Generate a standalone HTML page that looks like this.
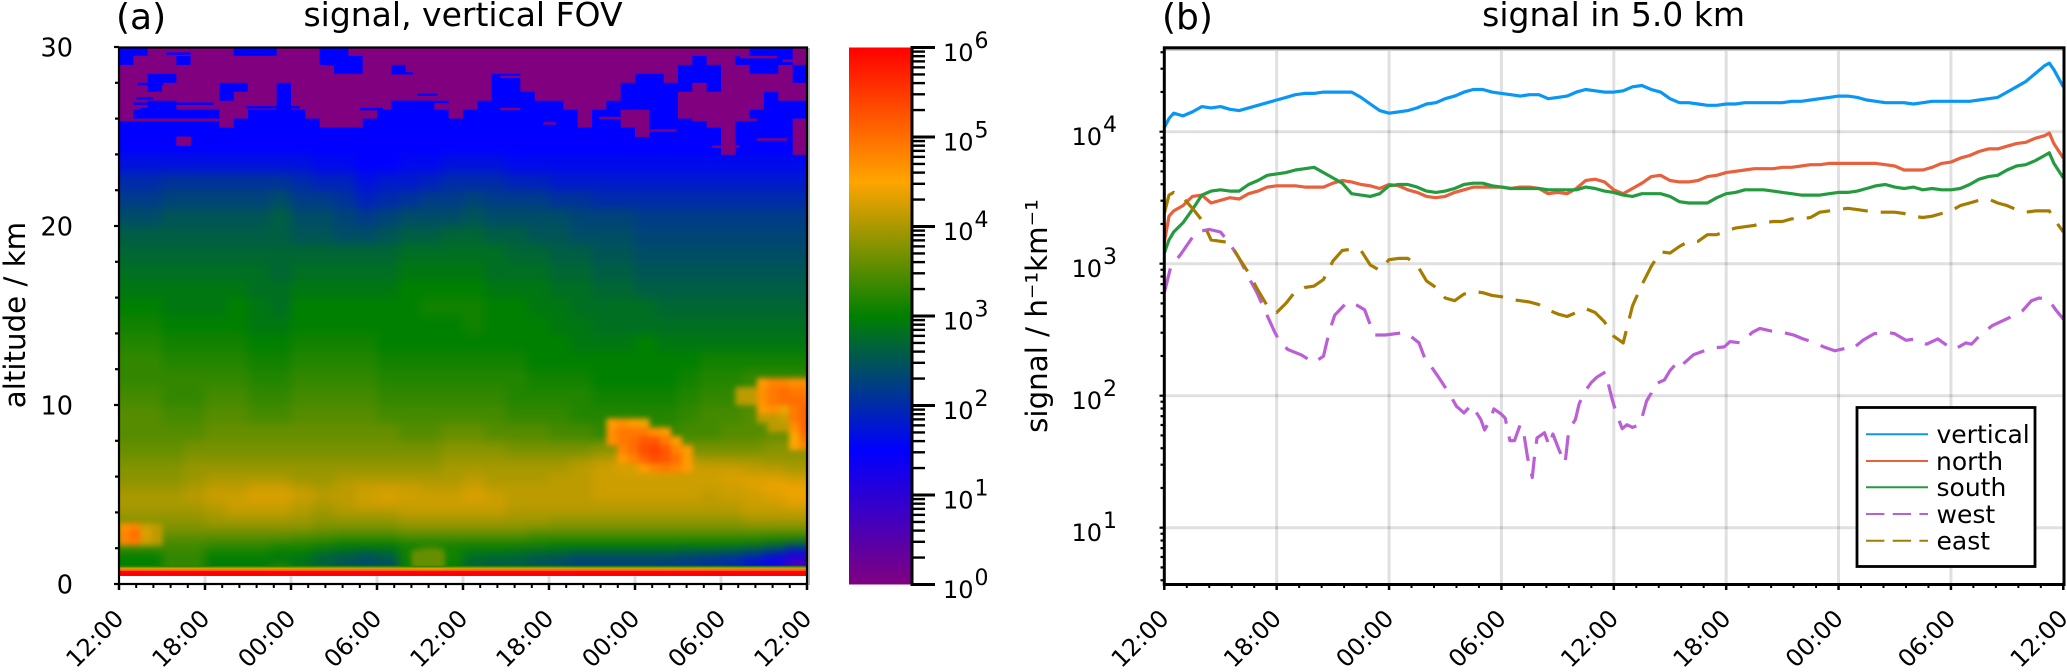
<!DOCTYPE html>
<html lang="en">
<head>
<meta charset="utf-8">
<title>signal charts</title>
<style>
html,body{margin:0;padding:0;background:#fff;}
svg{display:block;font-family:"DejaVu Sans","Liberation Sans",sans-serif;fill:#000;}
</style>
</head>
<body>
<svg id="fig" xmlns="http://www.w3.org/2000/svg" width="2067" height="672" viewBox="0 0 2067 672">
  <defs>
    <filter id="blurMain" filterUnits="userSpaceOnUse" x="60" y="0" width="810" height="672" color-interpolation-filters="sRGB"><feGaussianBlur stdDeviation="5"/></filter>
    <filter id="blurCloud" filterUnits="userSpaceOnUse" x="60" y="0" width="810" height="672" color-interpolation-filters="sRGB"><feGaussianBlur stdDeviation="2.6"/></filter>
    <clipPath id="heatClip"><rect x="119" y="47" width="688" height="529"/></clipPath>
    <clipPath id="lineClip"><rect x="1164" y="47" width="900" height="538"/></clipPath>
    <linearGradient id="cbarGrad" x1="0" y1="1" x2="0" y2="0"></linearGradient>
  </defs>

  <text x="116" y="29" font-size="36">(a)</text>
  <text x="463" y="26" font-size="33" text-anchor="middle">signal, vertical FOV</text>
  <text x="1162" y="29" font-size="36">(b)</text>
  <text x="1613.6" y="26" font-size="33" text-anchor="middle">signal in 5.0 km</text>
  <text transform="translate(25 315) rotate(-90)" font-size="29.3" text-anchor="middle">altitude / km</text>
  <text transform="translate(1047 316) rotate(-90)" font-size="29.3" text-anchor="middle">signal / h⁻¹km⁻¹</text>

  <g id="gridA"></g>
  <g clip-path="url(#heatClip)">
    <g id="heatMain" filter="url(#blurMain)"></g>
    <g id="heatCloud" filter="url(#blurCloud)"></g>
    <g id="heatTop"></g>
    <g id="heatStreaks"></g>
    <g id="heatSurface"></g>
  </g>
  <g id="axesA"></g>
  <line x1="809" y1="48" x2="809" y2="585" stroke="#999" stroke-width="1.5"/>
  <rect x="119" y="47.5" width="688" height="536.5" fill="none" stroke="#000" stroke-width="2.2"/>

  <rect x="849" y="47.5" width="63" height="537" fill="url(#cbarGrad)"/>
  <g id="axesCbar"></g>

  <g id="gridB"></g>
  <g id="seriesB" clip-path="url(#lineClip)"></g>
  <line x1="1164" y1="50" x2="2064" y2="50" stroke="#ccc" stroke-width="2"/>
  <rect x="1164.3" y="47.8" width="899.7" height="536.7" fill="none" stroke="#000" stroke-width="3"/>
  <g id="axesB"></g>

  <g>
    <rect x="1857" y="407.5" width="178" height="159" fill="#fff" stroke="#000" stroke-width="2.8"/>
    <line x1="1866" y1="434.3" x2="1928" y2="434.3" stroke="#0a96f5" stroke-width="2"/>
    <line x1="1866" y1="461" x2="1928" y2="461" stroke="#e8603c" stroke-width="2"/>
    <line x1="1866" y1="487.3" x2="1928" y2="487.3" stroke="#259b3f" stroke-width="2"/>
    <line x1="1866" y1="514" x2="1928" y2="514" stroke="#bb5fd6" stroke-width="2" stroke-dasharray="18.4 8.3"/>
    <line x1="1866" y1="540.7" x2="1928" y2="540.7" stroke="#a67c00" stroke-width="2" stroke-dasharray="18.4 8.3"/>
    <text x="1936.5" y="443" font-size="25">vertical</text>
    <text x="1936" y="470" font-size="25">north</text>
    <text x="1936.5" y="496" font-size="25">south</text>
    <text x="1936.5" y="523" font-size="25">west</text>
    <text x="1936.5" y="549.5" font-size="25">east</text>
  </g>
</svg>

<script>
/* ---------- shared categories / tick labels ---------- */
const timeLabels = ['12:00','18:00','00:00','06:00','12:00','18:00','00:00','06:00','12:00'];
const altitudeTicks = [0,10,20,30];
const colorbarExponents = [0,1,2,3,4,5,6];
const signalExponents = [1,2,3,4];

/* ---------- colormap: log10(signal) stops ---------- */
const colormapLogs = [0,1.5,3,4.5,6];
const colormapReds = [128,0,0,255,255];
const colormapGreens = [0,0,128,165,0];
const colormapBlues = [128,255,0,0,0];

/* ---------- heatmap: log10(signal)*10, columns of 1.5 h ---------- */
const heatColumnHours = 1.5;
const heatRowEdgesKm = [0.85,1.2,1.6,2.0,2.4,2.8,3.2,3.7,4.2,4.7,5.2,5.7,6.2,6.7,7.2,8,9,10,11,12,13,14,15,16,17,18,19,20,21,22,23,24,25,26,27];
const heatValues = [
[30,30,33,33,29,29,29,32,29,27,25,24,24,30,37,30,27,26,26,25,24,23,23,23,23,22,22,21,20,17,13,8],
[30,30,33,33,30,30,30,29,28,26,25,24,25,31,37,31,27,26,26,25,24,23,23,23,23,23,22,21,20,18,13,7],
[31,31,33,33,31,31,31,30,30,28,27,26,27,31,36,31,29,29,28,27,27,26,26,26,26,26,25,25,24,23,20,15],
[36,36,34,34,33,33,33,32,32,31,30,30,30,31,31,31,31,31,31,31,30,30,30,30,30,30,30,30,30,29,28,26],
[36,36,35,35,35,35,35,35,34,34,33,33,33,34,34,34,34,34,34,33,33,33,33,33,33,33,33,33,33,33,32,32],
[37,37,37,37,37,37,37,37,37,36,36,36,36,37,37,37,37,37,37,36,36,36,36,36,36,36,36,36,36,36,36,36],
[38,38,38,38,39,39,39,39,39,38,38,38,38,39,39,39,39,39,39,39,38,38,38,38,38,38,38,38,38,39,39,39],
[39,39,39,39,40,41,41,41,40,39,40,40,40,41,41,41,41,41,40,40,40,40,40,40,40,40,40,40,40,41,41,41],
[40,40,40,40,41,42,42,42,41,40,41,42,42,42,42,42,42,42,41,41,41,41,41,41,41,41,41,41,41,42,42,43],
[40,40,40,41,42,42,43,43,42,41,41,42,43,42,42,42,43,42,41,41,41,41,42,42,42,42,42,41,42,42,43,44],
[39,39,39,40,41,41,42,42,41,40,41,42,42,42,41,41,42,41,41,41,41,41,42,42,42,42,42,42,42,43,44,44],
[38,38,38,39,40,40,40,40,39,39,40,40,40,40,40,40,41,40,40,40,41,41,42,42,42,42,42,42,43,43,43,42],
[38,38,38,39,39,39,39,39,39,39,39,39,39,39,39,40,40,40,40,40,40,41,42,43,43,43,42,42,42,41,41,40],
[37,37,37,38,38,38,38,38,38,38,38,38,38,38,38,39,39,39,39,39,39,40,41,42,43,42,41,40,40,40,39,39],
[36,36,36,37,37,37,37,37,37,37,37,37,37,37,37,38,38,38,37,37,37,37,38,38,38,38,37,37,37,37,38,38],
[35,35,35,35,36,36,36,36,36,36,36,36,36,35,35,36,36,35,35,35,34,34,33,33,33,33,34,34,35,35,36,36],
[35,35,34,34,35,35,34,34,35,35,35,35,34,34,34,34,34,34,33,33,33,32,32,32,32,32,33,34,34,35,35,35],
[34,34,33,33,34,34,33,33,34,34,34,34,33,33,33,33,33,33,32,32,32,32,31,31,31,31,32,33,33,34,34,34],
[33,33,33,33,33,33,32,32,33,33,33,33,32,32,32,32,32,32,32,31,31,31,30,30,30,30,31,32,32,33,33,33],
[33,33,32,32,32,32,31,31,32,32,32,32,31,31,31,31,31,31,31,30,30,30,30,30,30,30,30,31,31,31,31,31],
[32,32,31,31,31,31,30,30,31,31,31,31,30,30,30,30,30,30,30,30,30,29,29,29,30,29,29,29,29,29,29,29],
[31,31,30,30,30,30,29,29,30,30,30,30,30,30,30,30,31,30,30,30,29,29,28,28,28,28,28,28,28,28,28,28],
[30,30,29,29,29,30,29,28,30,30,30,30,30,30,31,31,31,30,30,29,29,28,28,28,28,27,27,27,27,27,27,27],
[29,29,29,29,29,29,28,28,29,29,29,29,29,30,30,30,30,29,29,29,28,28,27,27,26,26,26,26,26,26,26,26],
[28,28,28,28,28,28,28,27,28,28,28,28,28,29,29,29,29,28,28,28,27,27,26,26,25,25,25,25,25,25,25,25],
[27,27,27,27,27,27,27,27,27,27,27,27,27,28,28,28,28,28,27,27,26,26,25,25,24,24,24,24,24,24,24,24],
[26,26,26,26,26,26,26,26,25,25,24,24,25,26,26,27,27,26,26,25,25,24,24,24,23,23,23,23,23,23,23,23],
[24,24,25,25,25,25,25,26,24,24,23,22,23,24,24,24,25,24,24,24,24,23,23,23,22,22,22,22,22,22,22,22],
[22,22,23,23,23,23,23,24,22,22,21,19,20,21,22,22,23,22,22,22,21,21,20,20,20,20,20,20,20,20,20,20],
[20,20,21,21,21,21,21,21,20,19,19,17,18,18,19,20,20,20,19,19,18,18,18,18,18,18,18,18,18,18,18,18],
[17,17,17,17,17,17,17,17,17,16,16,15,15,16,16,17,17,17,16,16,16,16,16,16,16,16,16,16,16,16,16,16],
[15,15,15,15,15,15,15,15,15,15,15,15,15,15,15,15,15,15,15,15,15,15,15,15,15,15,15,15,15,15,15,15],
[14,14,14,14,14,14,14,14,14,14,14,14,14,14,14,14,14,14,14,14,14,14,14,14,14,14,14,14,14,14,14,14],
[12,12,12,12,12,12,12,12,12,12,12,12,12,12,12,12,12,12,12,12,12,12,12,12,12,12,12,12,12,12,12,12]
];

/* noisy top of the heatmap: rows of 0.5 km from 30 km down, columns of 1 h; -1 = no data */
const noiseColumnHours = 1;
const noiseRowKm = 0.5;
const noiseValues = [
[15,15,0,0,0,0,0,0,15,15,15,0,0,0,15,15,0,0,0,0,0,0,0,0,0,0,0,0,0,0,0,0,0,0,0,0,0,0,0,0,0,0,0,0,15,15,15,0],
[15,0,0,0,15,0,0,0,0,0,0,0,0,0,15,15,15,0,0,0,0,0,0,0,0,0,0,0,0,0,0,0,0,0,0,0,0,0,0,0,15,0,0,15,15,15,15,0],
[0,0,0,0,0,0,0,0,0,0,0,0,0,0,0,15,15,0,0,15,0,0,0,0,0,0,0,0,0,0,0,0,0,0,0,0,0,0,0,15,15,15,0,0,15,15,0,15],
[0,0,15,15,0,0,0,0,0,0,0,0,0,0,0,0,0,0,0,0,0,0,0,0,0,0,15,15,0,0,0,0,0,0,0,0,15,15,0,15,15,15,0,0,0,0,0,15],
[0,0,15,0,0,0,0,15,15,0,0,15,0,0,0,0,0,0,0,0,0,0,0,0,0,0,15,15,0,0,0,0,0,0,0,15,15,15,15,15,0,15,0,0,0,0,0,0],
[0,0,0,0,0,0,0,15,0,0,0,15,0,0,0,0,0,0,0,0,0,0,0,0,0,0,15,15,15,0,0,0,0,0,0,15,15,15,15,0,0,0,0,0,0,15,0,0],
[0,0,15,15,0,0,0,0,0,0,0,15,0,0,0,0,0,0,0,15,15,15,0,0,0,15,15,15,15,15,15,0,0,0,15,15,15,15,15,0,0,0,0,0,0,15,15,15],
[0,15,15,15,15,15,15,0,0,15,15,15,15,0,0,0,0,0,15,15,15,15,15,0,15,15,15,15,15,15,15,15,0,15,15,0,0,15,15,0,0,0,0,0,15,15,15,15],
[15,15,15,15,15,15,15,0,15,15,15,15,15,15,0,0,0,15,15,15,15,15,15,15,15,15,15,15,15,15,15,15,0,15,15,0,0,15,15,15,15,0,0,15,15,15,15,0],
[15,15,15,15,15,15,15,15,15,15,15,15,15,15,15,15,15,15,15,15,15,15,15,15,15,15,15,15,15,15,15,15,15,15,15,15,0,15,15,15,15,15,0,15,15,15,15,0],
[-1,-1,-1,-1,0,-1,-1,-1,-1,-1,-1,-1,-1,-1,-1,-1,-1,-1,-1,-1,-1,-1,-1,-1,-1,-1,-1,-1,-1,-1,-1,-1,-1,-1,-1,-1,-1,-1,-1,-1,-1,-1,0,-1,-1,-1,-1,0],
[-1,-1,-1,-1,-1,-1,-1,-1,-1,-1,-1,-1,-1,-1,-1,-1,-1,-1,-1,-1,-1,-1,-1,-1,-1,-1,-1,-1,-1,-1,-1,-1,-1,-1,-1,-1,-1,-1,-1,-1,-1,-1,0,-1,-1,-1,-1,0]
];

/* thin horizontal streaks in the noisy region: hour span, altitude, log10(signal)*10 */
const streakStartHours = [1.3,1.2,1,1.5,8.9,0,14.5,16.8,19,20.8,3.3,14.5,19,26.6,26.6,29.6,33.5,36.8,40,41.4,44.5,46.3,43.3,26.6];
const streakEndHours = [3.1,2.4,6.6,3.7,12.6,8,16.8,18.4,23,22.2,5,16.6,20.5,28.5,28,30.5,36,38.9,44.5,43.3,46.6,48,45.9,28.5];
const streakKm = [28,27.2,26.9,26.6,26.7,26,25.8,26.6,27,27.4,29.7,29.1,28.6,27,26.6,25.8,26.1,25.4,26,24.5,24.9,29.3,29.5,28.4];
const streakValues = [15,15,15,15,15,0,0,15,15,15,15,15,15,15,0,0,0,0,0,0,0,0,0,0];

/* sharp near-ground layer: altitude bands and their log10(signal)*10 */
const surfaceTopKm = [1.02,0.96,0.88,0.8,0.72];
const surfaceBottomKm = [0.96,0.88,0.8,0.72,0.45];
const surfaceValues = [32,38,45,52,60];

/* clouds: start hour, top altitude, row height in km; cells are 0.75 h wide; 0 = none */
const cloudCellHours = 0.75;
const cloudStartHours = [34,43,0,20.4];
const cloudTopKm = [9.25,11.5,3.4,1.9];
const cloudRowKm = [0.5,0.5,0.4,0.35];
const cloudValues = [
[[46,47,46,44,0,0,0,0],
 [47,49,49,49,47,46,0,0],
 [47,49,50,52,52,49,46,0],
 [0,48,50,53,54,52,48,46],
 [0,46,48,51,53,52,50,46],
 [0,0,0,46,48,49,48,46]],
[[0,0,46,48,48,47,47],
 [41,41,47,49,50,49,49],
 [41,41,47,49,50,50,50],
 [0,0,46,47,44,49,51],
 [0,0,41,41,42,49,51],
 [0,0,0,41,41,47,51],
 [0,0,0,0,0,45,50],
 [0,0,0,0,0,45,48]],
[[47,48,42,41,0],
 [48,50,43,41,0],
 [48,49,42,41,0]],
[[36,36,36],
 [36,36,36],
 [36,36,36]]
];

/* ---------- panel b: hours since start and log10(signal) ---------- */
const hours = [0,0.25,0.5,1,1.5,2,2.5,3,3.5,4,4.5,5,5.5,
6,6.5,7,7.5,8,8.5,9,9.5,10,10.5,11,11.5,
12,12.5,13,13.5,14,14.5,15,15.5,16,16.5,17,17.5,
18,18.5,19,19.5,20,20.5,21,21.5,22,22.5,23,23.5,
24,24.5,25,25.5,26,26.5,27,27.5,28,28.5,29,29.5,
30,30.5,31,31.5,32,32.5,33,33.5,34,34.5,35,35.5,
36,36.5,37,37.5,38,38.5,39,39.5,40,40.5,41,41.5,
42,42.5,43,43.5,44,44.5,45,45.5,46,46.5,47,47.25,47.5,48];
const verticalLog = [4.03,4.10,4.14,4.12,4.15,4.19,4.18,4.19,4.17,4.16,4.18,4.20,4.22,
4.24,4.26,4.28,4.29,4.29,4.30,4.30,4.30,4.30,4.26,4.21,4.16,
4.14,4.15,4.16,4.18,4.21,4.22,4.25,4.27,4.30,4.32,4.32,4.30,
4.29,4.28,4.27,4.28,4.28,4.25,4.26,4.27,4.30,4.32,4.31,4.30,
4.30,4.31,4.34,4.35,4.32,4.30,4.25,4.22,4.22,4.21,4.20,4.20,
4.21,4.21,4.22,4.22,4.22,4.22,4.22,4.23,4.23,4.24,4.25,4.26,
4.27,4.27,4.26,4.24,4.23,4.22,4.22,4.22,4.21,4.22,4.23,4.23,
4.23,4.23,4.23,4.24,4.25,4.26,4.30,4.34,4.38,4.44,4.50,4.52,4.47,4.34];
const northLog = [3.16,3.36,3.40,3.44,3.51,3.52,3.46,3.48,3.50,3.49,3.53,3.55,3.58,
3.59,3.59,3.59,3.58,3.58,3.58,3.61,3.63,3.62,3.60,3.59,3.57,
3.60,3.59,3.56,3.54,3.51,3.50,3.51,3.54,3.56,3.58,3.58,3.58,
3.58,3.57,3.58,3.58,3.57,3.53,3.54,3.53,3.57,3.63,3.64,3.62,
3.56,3.53,3.57,3.61,3.66,3.67,3.63,3.62,3.62,3.63,3.66,3.67,
3.69,3.70,3.71,3.72,3.72,3.72,3.73,3.73,3.74,3.75,3.75,3.76,
3.76,3.76,3.76,3.76,3.76,3.75,3.74,3.71,3.71,3.71,3.73,3.76,
3.77,3.80,3.82,3.85,3.87,3.87,3.89,3.91,3.92,3.95,3.97,3.99,3.91,3.80];
const southLog = [3.08,3.18,3.24,3.31,3.41,3.52,3.55,3.56,3.55,3.55,3.60,3.63,3.67,
3.68,3.69,3.71,3.72,3.73,3.69,3.65,3.61,3.53,3.52,3.51,3.53,
3.59,3.60,3.60,3.58,3.55,3.54,3.55,3.57,3.60,3.61,3.61,3.59,
3.58,3.57,3.57,3.57,3.57,3.56,3.56,3.56,3.56,3.58,3.57,3.55,
3.54,3.52,3.51,3.53,3.53,3.53,3.51,3.47,3.46,3.46,3.46,3.50,
3.53,3.54,3.56,3.56,3.56,3.55,3.54,3.53,3.52,3.52,3.52,3.53,
3.54,3.54,3.55,3.57,3.59,3.60,3.58,3.57,3.58,3.56,3.57,3.56,
3.56,3.57,3.60,3.64,3.66,3.67,3.71,3.74,3.75,3.78,3.82,3.84,3.76,3.65];
const eastLog = [3.38,3.52,3.54,3.50,3.42,3.33,3.18,3.17,3.16,3.04,2.93,2.80,2.68,
2.63,2.70,2.79,2.82,2.83,2.88,3.02,3.10,3.11,3.10,2.99,2.95,
3.03,3.04,3.04,2.99,2.87,2.82,2.74,2.72,2.77,2.79,2.78,2.76,
2.75,2.73,2.72,2.71,2.69,2.65,2.62,2.60,2.63,2.66,2.63,2.56,
2.45,2.40,2.68,2.84,2.98,3.09,3.08,3.13,3.17,3.17,3.22,3.22,
3.25,3.27,3.28,3.29,3.31,3.32,3.32,3.34,3.34,3.35,3.39,3.40,
3.41,3.42,3.41,3.40,3.39,3.39,3.39,3.38,3.36,3.35,3.36,3.38,
3.40,3.44,3.46,3.48,3.49,3.46,3.44,3.41,3.39,3.40,3.40,3.40,3.34,3.24];
const westHours = [0,0.35,0.87,1.7,2.4,3,3.5,4,4.6,4.95,
5.55,5.9,6.2,6.6,7.3,8,8.5,8.8,9.1,9.7,
10,10.7,11.2,11.8,12.9,13.6,14,14.2,14.6,15.2,
15.6,16,16.4,16.9,17.1,17.4,17.6,18,18.2,18.45,
18.7,19,19.2,19.4,19.65,19.75,19.9,20.3,20.55,20.75,
21.1,21.4,21.6,21.95,22.15,22.5,22.8,23.1,23.55,23.9,
24.15,24.45,24.7,25,25.4,25.75,26,26.1,26.7,27,
27.5,27.7,28.25,29.2,29.9,30.2,30.8,31.4,31.8,32.4,
33,33.6,34.1,34.8,35.2,35.8,36.4,36.7,37.3,37.9,
38.6,39,39.6,40.1,40.7,41.3,42.1,42.3,42.8,43.1,
43.5,44.2,45.1,45.8,46.3,46.7,47.2,47.6,48];
const westLog = [2.78,2.98,3.07,3.24,3.26,3.24,3.15,3.04,2.87,2.78,
2.59,2.48,2.40,2.35,2.31,2.25,2.30,2.48,2.61,2.70,
2.71,2.65,2.46,2.46,2.48,2.40,2.25,2.23,2.15,2.02,
1.92,1.87,1.93,1.82,1.74,1.82,1.90,1.86,1.83,1.66,
1.66,1.78,1.71,1.53,1.38,1.52,1.68,1.72,1.62,1.71,
1.58,1.49,1.74,1.82,1.94,2.04,2.10,2.14,2.18,1.98,
1.86,1.75,1.78,1.76,1.78,1.96,2.02,2.08,2.12,2.19,
2.27,2.24,2.31,2.36,2.37,2.41,2.40,2.48,2.51,2.49,
2.48,2.46,2.43,2.40,2.37,2.34,2.36,2.35,2.42,2.47,
2.48,2.47,2.42,2.43,2.39,2.43,2.35,2.36,2.40,2.39,
2.45,2.53,2.59,2.64,2.72,2.74,2.73,2.65,2.58];

/* ---------- axis functions ---------- */
const xA = h => 119 + h * 688 / 48;
const yA = km => 584 - km * 537 / 30;
const xB = h => 1164.3 + h * 899 / 48;
const yB = lg => 131.7 + (4 - lg) * 132;
const yC = lg => 584.5 - lg * 537 / 6;

function cmap(lg){
  lg = Math.max(0, Math.min(6, lg));
  let i = 0;
  while (i < colormapLogs.length - 2 && lg > colormapLogs[i + 1]) i++;
  const t = (lg - colormapLogs[i]) / (colormapLogs[i + 1] - colormapLogs[i]);
  const r = Math.round(colormapReds[i] + t * (colormapReds[i + 1] - colormapReds[i]));
  const g = Math.round(colormapGreens[i] + t * (colormapGreens[i + 1] - colormapGreens[i]));
  const b = Math.round(colormapBlues[i] + t * (colormapBlues[i + 1] - colormapBlues[i]));
  return 'rgb(' + r + ',' + g + ',' + b + ')';
}
const NS = 'http://www.w3.org/2000/svg';
function make(tag, parent, props){
  const el = document.createElementNS(NS, tag);
  for (const k in props) el.setAttribute(k, props[k]);
  parent.appendChild(el);
  return el;
}
const $ = id => document.getElementById(id);

/* colorbar gradient */
colormapLogs.forEach((lg, i) => {
  const st = make('stop', $('cbarGrad'), {offset: lg / 6, 'stop-color': cmap(lg)});
  
  
});

/* main heat cells */
heatValues.forEach((row, r) => {
  row.forEach((v, c) => {
    const x0 = c === 0 ? 90 : xA(c * heatColumnHours);
    const x1 = c === row.length - 1 ? 840 : xA((c + 1) * heatColumnHours);
    const y1 = r === 0 ? yA(0.3) : yA(heatRowEdgesKm[r]);
    const y0 = yA(heatRowEdgesKm[r + 1]);
    const cell = make('rect', $('heatMain'), {x: x0, y: y0, width: x1 - x0 + 0.6, height: y1 - y0 + 0.6, fill: cmap(v / 10)});
    
    
  });
});

/* noisy top cells */
noiseValues.forEach((row, r) => {
  row.forEach((v, c) => {
    if (v < 0) return;
    const y0 = yA(30 - r * noiseRowKm);
    const cell = make('rect', $('heatTop'), {x: xA(c * noiseColumnHours), y: y0, width: xA((c + 1) * noiseColumnHours) - xA(c * noiseColumnHours) + 0.4, height: yA(30 - (r + 1) * noiseRowKm) - y0 + 0.4, fill: cmap(v / 10)});
    
    
  });
});

/* thin streaks */
streakKm.forEach((km, i) => {
  const st = make('rect', $('heatStreaks'), {x: xA(streakStartHours[i]), y: yA(km), width: xA(streakEndHours[i]) - xA(streakStartHours[i]), height: 2.4, fill: cmap(streakValues[i] / 10)});
  
  
});

/* clouds */
cloudValues.forEach((grid, k) => {
  grid.forEach((row, r) => {
    row.forEach((v, c) => {
      if (!v) return;
      const h0 = cloudStartHours[k] + c * cloudCellHours;
      const km0 = cloudTopKm[k] - r * cloudRowKm[k];
      const cell = make('rect', $('heatCloud'), {x: xA(h0), y: yA(km0), width: xA(h0 + cloudCellHours) - xA(h0) + 0.4, height: yA(km0 - cloudRowKm[k]) - yA(km0) + 0.4, fill: cmap(v / 10)});
      
      
    });
  });
});

/* surface band */
surfaceValues.forEach((v, i) => {
  const band = make('rect', $('heatSurface'), {x: xA(0), y: yA(surfaceTopKm[i]), width: xA(48) - xA(0), height: yA(surfaceBottomKm[i]) - yA(surfaceTopKm[i]), fill: cmap(v / 10)});
  
  
});

/* panel a grid, ticks and labels; panel b grid, ticks and labels */
function timeAxis(xf, gridGroup, axisGroup, panel){
  timeLabels.forEach((lab, i) => {
    const x = xf(i * 6);
    if (i > 0 && i < timeLabels.length - 1) {
      const g = make('line', gridGroup, {x1: x, x2: x, y1: panel === 'a' ? 47 : 50, y2: 584, stroke: '#000', 'stroke-opacity': 0.12, 'stroke-width': 3});
      
      
    }
    const t = make('text', axisGroup, {x: x + 6, y: 620, 'font-size': 24, 'text-anchor': 'end', transform: 'rotate(-45 ' + (x + 6) + ' 620)'});
    t.textContent = lab;
    
    
  });
  for (let i = 0; i <= (timeLabels.length - 1) * 5; i++) {
    const x = xf(i * 6 / 5);
    const tk = make('line', axisGroup, {x1: x, x2: x, y1: 584, y2: i % 5 === 0 ? 590 : 588, stroke: '#000', 'stroke-width': i % 5 === 0 ? 2.5 : 2});
    
    
  }
}
timeAxis(xA, $('gridA'), $('axesA'), 'a');
timeAxis(xB, $('gridB'), $('axesB'), 'b');

for (let km = 0; km <= 30; km += 2) {
  const tk = make('line', $('axesA'), {x1: km % 10 === 0 ? 114 : 115, x2: 119, y1: yA(km), y2: yA(km), stroke: '#000', 'stroke-width': 2.2});
  
  
}
altitudeTicks.forEach(km => {
  const t = make('text', $('axesA'), {x: 73, y: yA(km) + 9.5, 'font-size': 25.5, 'text-anchor': 'end'});
  t.textContent = km;
  
  
});

/* colorbar axis */
const cbAxis = make('line', $('axesCbar'), {x1: 912, x2: 912, y1: 46, y2: 586, stroke: '#000', 'stroke-width': 3});


colorbarExponents.forEach(e => {
  const y = yC(e);
  const tk = make('line', $('axesCbar'), {x1: 912, x2: 935, y1: y, y2: y, stroke: '#000', 'stroke-width': 3});
  
  
  if (e < 6) {
    for (let m = 2; m <= 9; m++) {
      const ym = yC(e + Math.log10(m));
      const mt = make('line', $('axesCbar'), {x1: 912, x2: 925, y1: ym, y2: ym, stroke: '#000', 'stroke-width': 2.4});
      
      
    }
  }
  const t = make('text', $('axesCbar'), {x: 943, y: y + 13.5, 'font-size': 24});
  
  
  t.appendChild(document.createTextNode('10'));
  const s = make('tspan', t, {dy: -13, dx: 1, 'font-size': 22});
  s.textContent = e;
  
  
});

/* panel b log axis */
signalExponents.forEach(e => {
  const y = yB(e);
  const g = make('line', $('gridB'), {x1: 1164, x2: 2064, y1: y, y2: y, stroke: '#000', 'stroke-opacity': 0.12, 'stroke-width': 3});
  
  
  const t = make('text', $('axesB'), {x: 1117, y: y + 13.5, 'font-size': 24, 'text-anchor': 'end'});
  
  
  t.appendChild(document.createTextNode('10'));
  const s = make('tspan', t, {dy: -13, dx: 1, 'font-size': 22});
  s.textContent = e;
  
  
});
for (let e = 0; e <= 4; e++) {
  for (let m = 1; m <= 9; m++) {
    const lg = e + Math.log10(m);
    const y = yB(lg);
    if (y < 48 || y > 584) continue;
    const tk = make('line', $('axesB'), {x1: m === 1 ? 1159.5 : 1160.5, x2: 1164, y1: y, y2: y, stroke: '#000', 'stroke-width': 2.2});
    
    
  }
}

/* series lines */
function drawLine(name, xs, ys, color, dash){
  const pts = xs.map((h, i) => xB(h).toFixed(1) + ',' + yB(ys[i]).toFixed(1)).join(' ');
  const props = {points: pts, fill: 'none', stroke: color, 'stroke-width': 3.2, 'stroke-linejoin': 'round'};
  if (dash) props['stroke-dasharray'] = dash;
  const el = make('polyline', $('seriesB'), props);
  
  
}
drawLine('series-vertical', hours, verticalLog, '#0a96f5');
drawLine('series-north', hours, northLog, '#e8603c');
drawLine('series-south', hours, southLog, '#259b3f');
drawLine('series-west', westHours, westLog, '#bb5fd6', '25 13');
drawLine('series-east', hours, eastLog, '#a67c00', '25 13');
</script>
</body>
</html>
